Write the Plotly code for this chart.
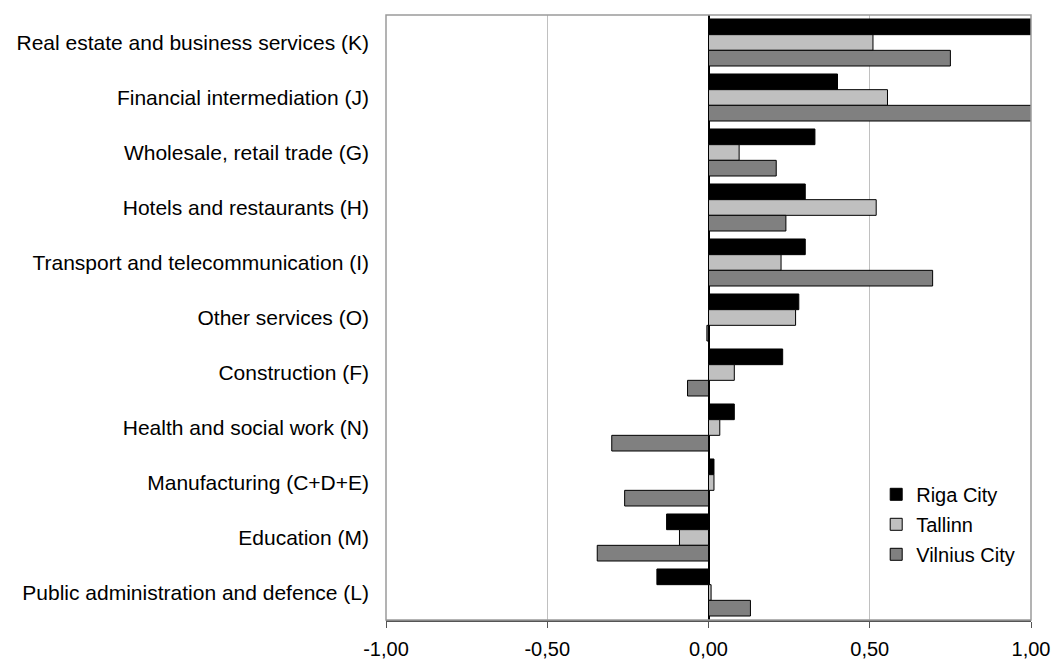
import plotly.graph_objects as go

# Sector categories, listed top to bottom
sectors = [
    "Real estate and business services (K)",
    "Financial intermediation (J)",
    "Wholesale, retail trade (G)",
    "Hotels and restaurants (H)",
    "Transport and telecommunication (I)",
    "Other services (O)",
    "Construction (F)",
    "Health and social work (N)",
    "Manufacturing (C+D+E)",
    "Education (M)",
    "Public administration and defence (L)",
]

riga = [1.02, 0.40, 0.33, 0.30, 0.30, 0.28, 0.23, 0.08, 0.017, -0.13, -0.16]
tallinn = [0.51, 0.555, 0.095, 0.52, 0.225, 0.27, 0.08, 0.035, 0.017, -0.09, 0.008]
vilnius = [0.75, 1.01, 0.21, 0.24, 0.695, -0.005, -0.065, -0.30, -0.26, -0.345, 0.13]

x_ticks = [-1.0, -0.5, 0.0, 0.5, 1.0]
x_tick_labels = ["-1,00", "-0,50", "0,00", "0,50", "1,00"]

series = [
    ("Riga City", riga, "#000000"),
    ("Tallinn", tallinn, "#c0c0c0"),
    ("Vilnius City", vilnius, "#808080"),
]

fig = go.Figure()
for name, vals, color in series:
    fig.add_trace(go.Bar(
        y=sectors, x=vals, name=name, orientation="h",
        marker=dict(color=color, line=dict(color="#000000", width=1)),
        legendgroup=name,
    ))

font_family = "Liberation Sans, Arial, sans-serif"

fig.update_layout(
    width=1054, height=660,
    margin=dict(l=386, r=23, t=15, b=40, autoexpand=False),
    paper_bgcolor="white", plot_bgcolor="white",
    barmode="group", bargap=0.145, bargroupgap=0,
    font=dict(family=font_family, size=20, color="#000000"),
    showlegend=True,
    legend=dict(
        x=0.76, xanchor="left", y=0.24, yanchor="top",
        bgcolor="rgba(0,0,0,0)", borderwidth=0,
        font=dict(family=font_family, size=20, color="#000000"),
        tracegroupgap=1, itemwidth=30,
    ),
    xaxis=dict(
        range=[-1, 1], tickvals=x_ticks, ticktext=x_tick_labels,
        showgrid=True, gridcolor="#c0c0c0", gridwidth=1,
        zeroline=True, zerolinecolor="#000000", zerolinewidth=1.5,
        showline=True, linecolor="#555555", linewidth=2,
        ticks="outside", ticklen=6, tickcolor="#555555", tickwidth=1,
        tickfont=dict(size=20), fixedrange=True, automargin=False,
        ticklabelstandoff=4,
    ),
    yaxis=dict(
        categoryorder="array", categoryarray=sectors, autorange="reversed",
        showgrid=False, zeroline=False, showline=False,
        ticks="", ticklen=0, tickfont=dict(size=21), automargin=False,
        ticklabelstandoff=16,
    ),
    shapes=[dict(
        type="rect", xref="paper", yref="paper", x0=0, x1=1, y0=0, y1=1,
        line=dict(color="#9a9a9a", width=1.5), layer="above",
    )],
)

fig.write_html("out.html")
